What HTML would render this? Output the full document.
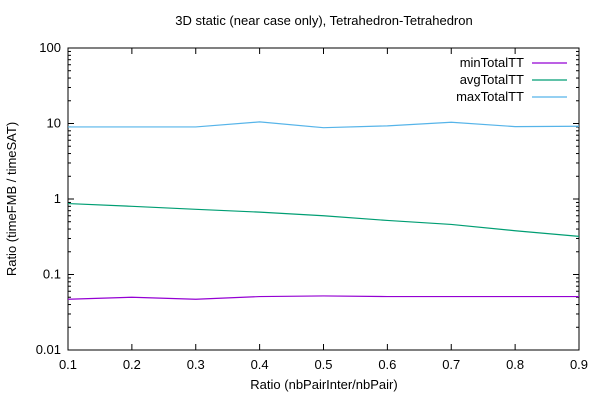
<!DOCTYPE html>
<html><head><meta charset="utf-8"><style>
body{margin:0;background:#fff}
svg{display:block;font-family:"Liberation Sans",sans-serif;font-size:13px}
</style></head><body>
<svg id="chart" width="600" height="400">
<text x="324" y="25" text-anchor="middle" font-size="13">3D static (near case only), Tetrahedron-Tetrahedron</text>
<text transform="translate(16,199) rotate(-90)" text-anchor="middle">Ratio (timeFMB / timeSAT)</text>
<text x="324" y="389" text-anchor="middle">Ratio (nbPairInter/nbPair)</text>
<g id="axes"></g><g id="series"></g><g id="legend"></g>
</svg>
<script>
const xValues=[0.1,0.2,0.3,0.4,0.5,0.6,0.7,0.8,0.9];
const minTotalTT=[0.047,0.050,0.047,0.051,0.052,0.051,0.051,0.051,0.051];
const avgTotalTT=[0.87,0.80,0.73,0.67,0.60,0.52,0.46,0.38,0.32];
const maxTotalTT=[9.0,9.0,9.0,10.5,8.8,9.3,10.4,9.1,9.2];
const xTicks=["0.1","0.2","0.3","0.4","0.5","0.6","0.7","0.8","0.9"];
const yTicks=[0.01,0.1,1,10,100];
const yTickLabels=["0.01","0.1","1","10","100"];
const seriesNames=["minTotalTT","avgTotalTT","maxTotalTT"];
const colors=["#9400d3","#009e73","#56b4e9"];
const L=68,R=579,T=48,B=350;
const NS="http://www.w3.org/2000/svg";
const sx=v=>L+(v-0.1)/0.8*(R-L);
const sy=v=>B-(Math.log10(v)+2)/4*(B-T);
function mk(tag,attrs,parent){const e=document.createElementNS(NS,tag);for(const k in attrs)e.setAttribute(k,attrs[k]);parent.appendChild(e);return e;}
const ax=document.getElementById('axes');
const frame=mk('rect',{x:L,y:T,width:R-L,height:B-T,fill:'none',stroke:'#000','stroke-width':1},ax);


xValues.forEach((v,i)=>{
  const x=sx(v);
  mk('line',{x1:x,x2:x,y1:B,y2:B-6,stroke:'#000'},ax);
  mk('line',{x1:x,x2:x,y1:T,y2:T+6,stroke:'#000'},ax);
  const t=mk('text',{x:x,y:B+19,'text-anchor':'middle'},ax);t.textContent=xTicks[i];
  
  
});
yTicks.forEach((v,i)=>{
  const y=sy(v);
  mk('line',{x1:L,x2:L+6,y1:y,y2:y,stroke:'#000'},ax);
  mk('line',{x1:R,x2:R-6,y1:y,y2:y,stroke:'#000'},ax);
  const t=mk('text',{x:L-7,y:y+4,'text-anchor':'end'},ax);t.textContent=yTickLabels[i];
  
  
  if(i<yTicks.length-1)for(let m=2;m<=9;m++){const yy=sy(v*m);
    mk('line',{x1:L,x2:L+3,y1:yy,y2:yy,stroke:'#000'},ax);
    mk('line',{x1:R,x2:R-3,y1:yy,y2:yy,stroke:'#000'},ax);}
});
const sg=document.getElementById('series');
const lg=document.getElementById('legend');
[minTotalTT,avgTotalTT,maxTotalTT].forEach((d,k)=>{
  const p=mk('polyline',{points:d.map((v,i)=>sx(xValues[i])+','+sy(v)).join(' '),fill:'none',stroke:colors[k],'stroke-width':1.2},sg);
  
  
  const y=63+k*17;
  const t=mk('text',{x:524,y:y+4,'text-anchor':'end'},lg);t.textContent=seriesNames[k];
  
  
  mk('line',{x1:532,x2:567,y1:y,y2:y,stroke:colors[k],'stroke-width':1.2},lg);
});
</script>
</body></html>
